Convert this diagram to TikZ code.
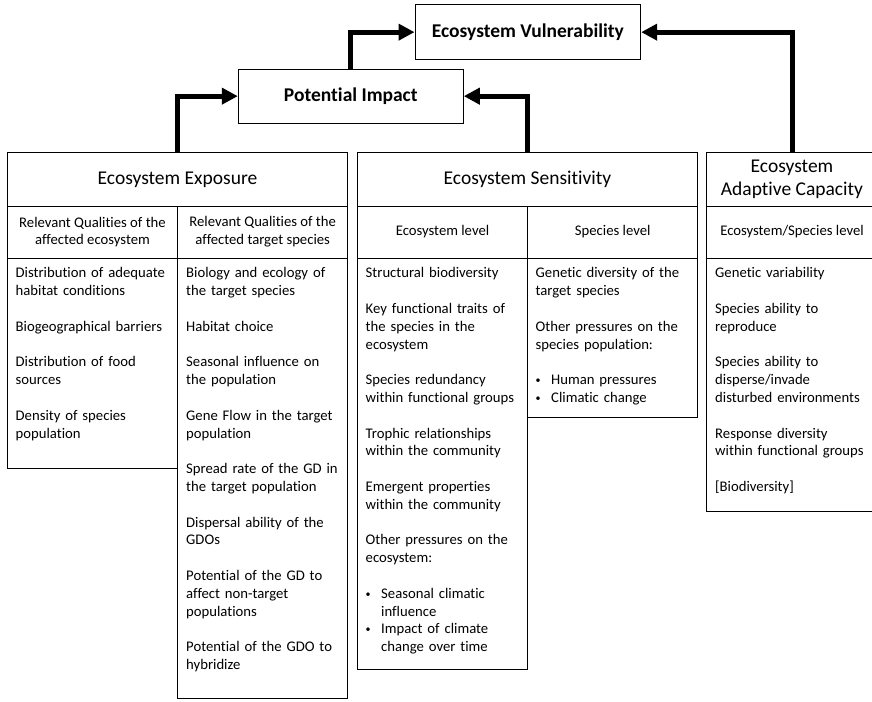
\documentclass[tikz,border=0pt]{standalone}
\usepackage{fontspec}
\setmainfont{Carlito}[Ligatures={NoCommon}]
\usetikzlibrary{arrows.meta,fit}

\newcommand{\bodyfont}{\fontsize{14.7}{17.8}\selectfont}
\newcommand{\titlefont}{\fontsize{19.5}{22.5}\selectfont}
\newcommand{\headfont}{\fontsize{19.5}{23}\selectfont\bfseries}
\newcommand{\nextitem}{\\[17.8pt]}
\newcommand{\smallbullet}{\raisebox{0.15ex}{\fontsize{10}{10}\selectfont\textbullet}}
\newcommand{\bul}[1]{\makebox[15.5pt][l]{\smallbullet}#1}
\newcommand{\bulcont}[1]{\hspace*{15.5pt}#1}

\tikzset{
  cellbox/.style={draw=black, line width=1pt, inner sep=0pt},
  conn/.style={line width=5pt, -{Triangle[length=16pt,width=16pt]}},
  bodytext/.style={anchor=north west, inner sep=0pt, align=left,
    text width=#1, font=\bodyfont},
  bodytext/.default=160pt,
  subtext/.style={inner sep=0pt, align=center, font=\bodyfont},
  titletext/.style={inner sep=0pt, align=center, font=\titlefont},
  boldtext/.style={inner sep=0pt, font=\headfont},
}

\begin{document}
\begin{tikzpicture}[x=1pt,y=-1pt]
  \fill[white] (0,0) rectangle (872,701);
  \useasboundingbox (0,0) rectangle (872,701);

  % --- top level boxes
  \node[cellbox, fit={(415,5)(640.7,59.3)}] (vuln) {};
  \node[boldtext] (vulnt) at (vuln.center) {Ecosystem Vulnerability};
  \node[cellbox, fit={(238.3,69)(463.3,123.3)}] (impact) {};
  \node[boldtext] (impactt) at (impact.center) {Potential Impact};

  % --- Ecosystem Exposure
  \node[cellbox, fit={(7.3,152.7)(347.7,206)}] (expo) {};
  \node[titletext] (expot) at (expo.center) {Ecosystem Exposure};
  \node[cellbox, fit={(7.3,206)(177.7,258)}] (expoha) {};
  \node[subtext] (expohat) at (expoha.center) {Relevant Qualities of the\\affected ecosystem};
  \node[cellbox, fit={(177.7,206)(347.7,258)}] (expohb) {};
  \node[subtext] (expohbt) at (expohb.center) {Relevant Qualities of the\\affected target species};
  \node[cellbox, fit={(7.3,258)(177.7,468)}] (expoba) {};
  \node[cellbox, fit={(177.7,258)(347.7,698.5)}] (expobb) {};
  \node[bodytext] (expobat) at (15.5,265.2) {\strut Distribution of adequate\\habitat conditions\nextitem
    Biogeographical barriers\nextitem
    Distribution of food\\sources\nextitem
    Density of species\\population};
  \node[bodytext] (expobbt) at (186,265.2) {\strut Biology and ecology of\\the target species\nextitem
    Habitat choice\nextitem
    Seasonal influence on\\the population\nextitem
    Gene Flow in the target\\population\nextitem
    Spread rate of the GD in\\the target population\nextitem
    Dispersal ability of the\\GDOs\nextitem
    Potential of the GD to\\affect non-target\\populations\nextitem
    Potential of the GDO to\\hybridize};

  % --- Ecosystem Sensitivity
  \node[cellbox, fit={(357.3,152.7)(697.7,206)}] (sens) {};
  \node[titletext] (senst) at (sens.center) {Ecosystem Sensitivity};
  \node[cellbox, fit={(357.3,206)(527.7,258)}] (sensha) {};
  \node[subtext] (senshat) at (sensha.center) {Ecosystem level};
  \node[cellbox, fit={(527.7,206)(697.7,258)}] (senshb) {};
  \node[subtext] (senshbt) at (senshb.center) {Species level};
  \node[cellbox, fit={(357.3,258)(527.7,669.3)}] (sensba) {};
  \node[cellbox, fit={(527.7,258)(697.7,417.7)}] (sensbb) {};
  \node[bodytext] (sensbat) at (365.5,265.2) {\strut Structural biodiversity\nextitem
    Key functional traits of\\the species in the\\ecosystem\nextitem
    Species redundancy\\within functional groups\nextitem
    Trophic relationships\\within the community\nextitem
    Emergent properties\\within the community\nextitem
    Other pressures on the\\ecosystem:\nextitem
    \bul{Seasonal climatic}\\\bulcont{influence}\\
    \bul{Impact of climate}\\\bulcont{change over time}};
  \node[bodytext] (sensbbt) at (535.5,265.2) {\strut Genetic diversity of the\\target species\nextitem
    Other pressures on the\\species population:\nextitem
    \bul{Human pressures}\\\bul{Climatic change}};

  % --- Ecosystem Adaptive Capacity (runs past the right edge)
  \node[cellbox, fit={(706.7,152.7)(877.3,206)}] (adapt) {};
  \node[titletext] (adaptt) at (adapt.center) {Ecosystem\\Adaptive Capacity};
  \node[cellbox, fit={(706.7,206)(877.3,258)}] (adaptha) {};
  \node[subtext] (adapthat) at (adaptha.center) {Ecosystem/Species level};
  \node[cellbox, fit={(706.7,258)(877.3,511.5)}] (adaptba) {};
  \node[bodytext] (adaptbat) at (715,265.2) {\strut Genetic variability\nextitem
    Species ability to\\reproduce\nextitem
    Species ability to\\disperse/invade\\disturbed environments\nextitem
    Response diversity\\within functional groups\nextitem
    \mbox{[Biodiversity]}};

  % --- connectors
  \draw[conn] (expo.north) |- (impact.west);
  \draw[conn] (sens.north) |- (impact.east);
  \draw[conn] (impact.north) |- (vuln.west);
  \draw[conn] (adapt.north) |- (vuln.east);
\end{tikzpicture}
\end{document}
